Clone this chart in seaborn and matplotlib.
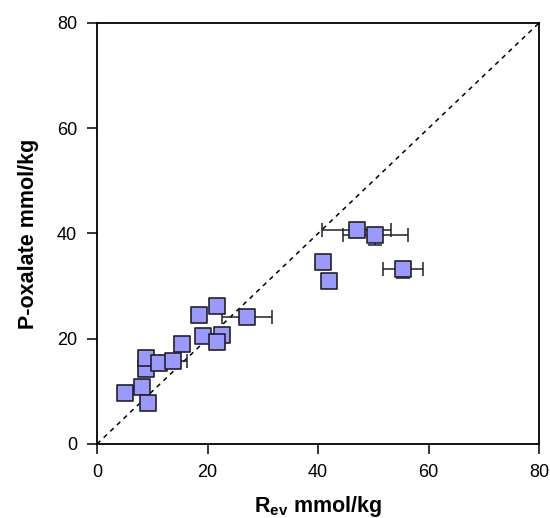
import numpy as np
import pandas as pd
import matplotlib
matplotlib.use('Agg')
import matplotlib.pyplot as plt
import seaborn as sns

# data
r_ev = [5.1, 8.1, 9.2, 8.9, 8.9, 11.2, 13.8, 15.3, 18.4, 21.8, 19.2, 22.6, 21.8, 27.1,
        47.0, 50.4, 40.9, 42.0, 55.4]
p_ox = [9.7, 10.9, 7.7, 14.2, 16.3, 15.3, 15.8, 19.0, 24.5, 26.2, 20.6, 20.7, 19.3, 24.1,
        40.6, 39.7, 34.5, 31.0, 33.3]
r_err = [0.6, 0.7, 0.8, 0.6, 0.6, 0.7, 2.4, 0.9, 0.9, 1.0, 0.8, 0.9, 0.8, 4.5,
         6.3, 5.9, 0.9, 1.1, 3.6]
p_err_lo = [0.4, 0.5, 0.4, 0.4, 0.5, 0.4, 0.5, 0.5, 0.6, 0.6, 0.5, 0.6, 0.5, 0.6,
            0.7, 1.8, 0.6, 0.8, 1.8]
p_err_hi = [0.4, 0.5, 0.4, 0.4, 0.5, 0.4, 0.5, 0.5, 0.6, 0.6, 0.5, 0.6, 0.5, 0.6,
            0.7, 0.6, 0.6, 0.8, 0.6]

df = pd.DataFrame({'r_ev': r_ev, 'p_ox': p_ox, 'r_err': r_err,
                   'p_err_lo': p_err_lo, 'p_err_hi': p_err_hi})

sns.set_style('ticks')
plt.rcParams['font.family'] = ['Liberation Sans', 'DejaVu Sans']
plt.rcParams['mathtext.fontset'] = 'custom'
plt.rcParams['mathtext.rm'] = 'Liberation Sans'
plt.rcParams['mathtext.bf'] = 'Liberation Sans:bold'
plt.rcParams['text.color'] = 'black'
plt.rcParams['axes.labelcolor'] = 'black'

fig = plt.figure(figsize=(5.5, 5.18), dpi=100)
ax = fig.add_axes([0.1764, 0.1429, 0.8036, 0.8127])

# line of identity
ax.plot([0, 80], [0, 80], ls=(0, (3, 3)), color='black', lw=1.1, zorder=1)

ax.errorbar(df['r_ev'], df['p_ox'], xerr=df['r_err'],
            yerr=[df['p_err_lo'], df['p_err_hi']], fmt='none',
            ecolor='#222222', elinewidth=1.1, capsize=4.8, capthick=1.1, zorder=2)
sns.scatterplot(data=df, x='r_ev', y='p_ox', marker='s', s=135, color='#9999ff',
                edgecolor='#222222', linewidth=1.2, zorder=3, ax=ax)

ax.set_xlim(0, 80)
ax.set_ylim(0, 80)
ax.set_xticks([0, 20, 40, 60, 80])
ax.set_yticks([0, 20, 40, 60, 80])
ax.tick_params(direction='out', length=7.5, width=1.1, labelsize=13, colors='black', pad=7)
for sp in ax.spines.values():
    sp.set_visible(True)
    sp.set_linewidth(1.3)
    sp.set_color('black')

ax.set_xlabel(r'$\mathbf{R_{ev}}$ mmol/kg', fontsize=15.5, fontweight='bold', labelpad=9)
ax.set_ylabel('P-oxalate mmol/kg', fontsize=15.5, fontweight='bold', labelpad=13)

fig.savefig('out.png', dpi=100)
